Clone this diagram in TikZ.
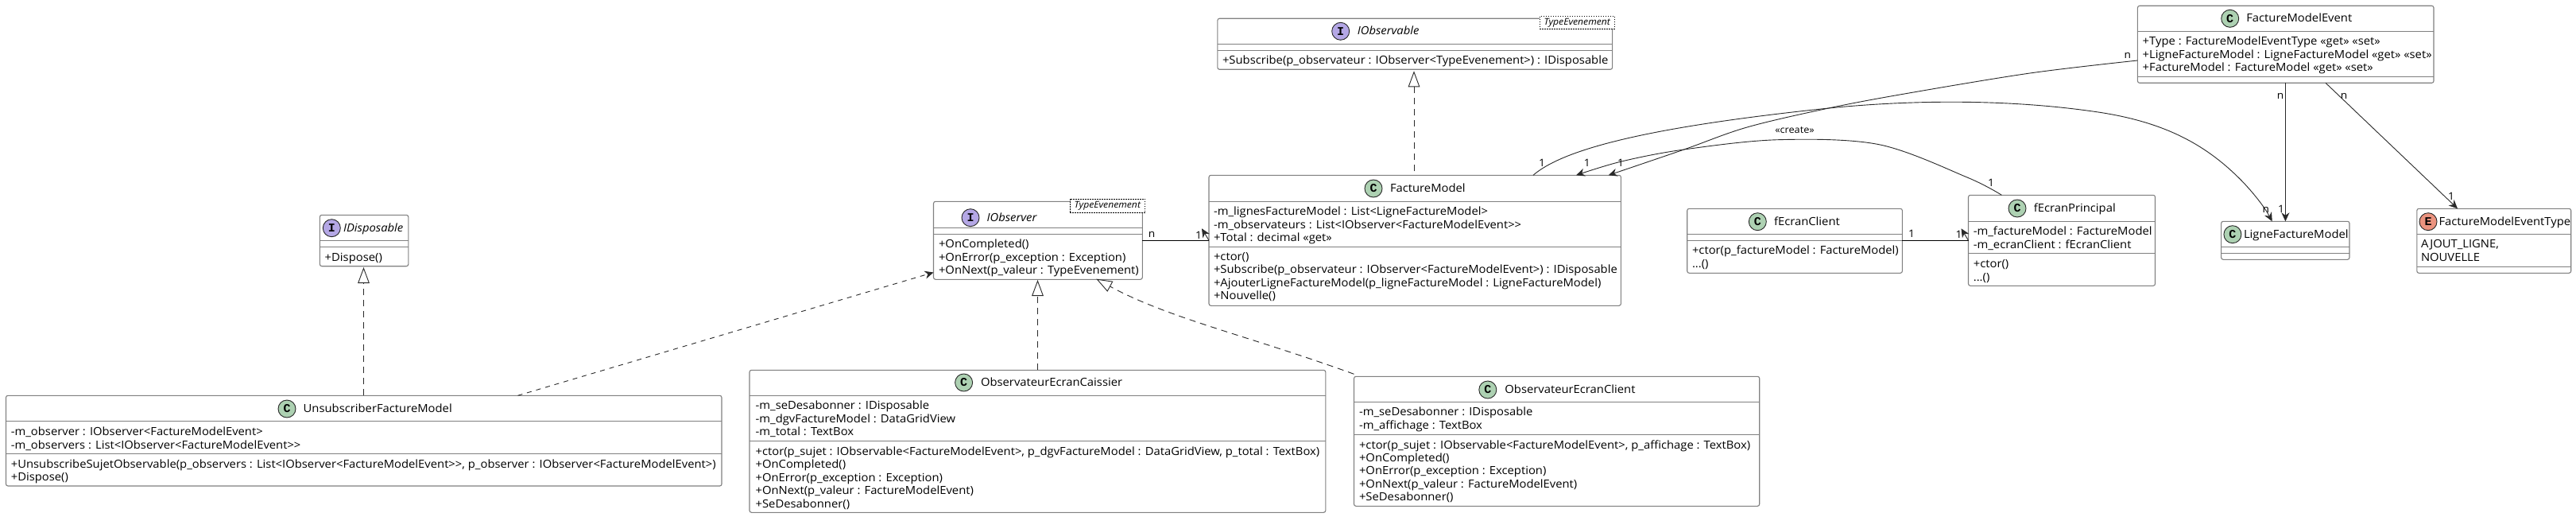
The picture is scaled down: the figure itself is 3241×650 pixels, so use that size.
\documentclass[tikz,border=0pt]{standalone}
\usepackage{fontspec}
\usetikzlibrary{arrows.meta,calc}
\setmainfont{Open Sans}[FakeStretch=1.057]
\newfontfamily\spotfont{Liberation Mono}[BoldFont=Liberation Mono Bold]
\definecolor{cborder}{HTML}{808080}
\definecolor{cline}{HTML}{2A2A2A}
\definecolor{cclass}{HTML}{ADD1B2}
\definecolor{ciface}{HTML}{B4A7E5}
\definecolor{cenum}{HTML}{EB937F}
\newcommand\lstrut{\vrule height 13pt depth 3.4pt width 0pt\relax}
\tikzset{
  classbox/.style={draw=cborder,line width=1.1pt,fill=white,rounded corners=2.5pt,inner sep=0pt,outer sep=0pt,anchor=north west},
  sepline/.style={draw=cborder,line width=1.1pt},
  memberlines/.style={inner sep=0pt,outer sep=0pt,anchor=north west,align=left,font=\fontsize{14}{16.4}\selectfont},
  titletext/.style={inner sep=0pt,outer sep=0pt,anchor=base west,font=\fontsize{14}{16.4}\selectfont},
  generictag/.style={draw=black,line width=.9pt,dash pattern=on 1.5pt off 1.5pt,fill=white,inner sep=0pt,outer sep=0pt,anchor=north west,font=\fontsize{11.5}{14}\selectfont\itshape},
  spot/.style={circle,draw=black!85,line width=.9pt,minimum size=22pt,inner sep=0pt,outer sep=0pt,font=\spotfont\bfseries\fontsize{15}{15}\selectfont},
  role/.style={inner sep=0pt,outer sep=0pt,font=\fontsize{13}{15}\selectfont},
  conn/.style={draw=cline,line width=.9pt},
  heavy/.style={draw=black,line width=1.5pt},
  toopen/.style={conn,-{Stealth[length=11pt,width=10pt,inset=3.5pt]}},
  realize/.style={conn,dash pattern=on 8pt off 6pt,-{Triangle[open,fill=white,length=20pt,width=14.6pt]}},
  depends/.style={conn,dash pattern=on 6pt off 6pt,-{Stealth[length=11pt,width=10pt,inset=3.5pt,fill=cline]}},
}
\newcommand\umlbox[6]{%
  \pgfmathsetmacro\boxw{#4-#2}\pgfmathsetmacro\boxh{#5-#3}%
  \node[classbox,minimum width=\boxw pt,minimum height=\boxh pt] (#1) at (#2,#3) {};
  \foreach \s in {#6} {\draw[sepline] (#1.west |- 0,\s) -- (#1.east |- 0,\s);}
}
\newcommand\umlspot[5]{\node[spot,fill=#4] (#1) at (#2,#3) {#5};}
\newcommand\umltitle[5][]{\node[titletext,#1] (#2) at (#3,#4+4.7) {#5};}
\newcommand\umllines[4]{\node[memberlines] (#1) at (#2,#3-8.3) {\lstrut #4};}
\newcommand\umlrole[4]{\node[role] (#1) at (#2,#3) {#4};}
\begin{document}
\begin{tikzpicture}[x=1pt,y=-1pt]
\path[use as bounding box,fill=white] (0,0) rectangle (3241,650);

% IDisposable
\umlbox{disp}{402.4}{270.3}{513.8}{334.7}{302.3,310.3}
\umlspot{dispS}{417.3}{286.7}{ciface}{I}
\umltitle[font=\fontsize{14}{16.4}\selectfont\itshape]{dispT}{432}{286.7}{IDisposable}
\umllines{dispM}{408.7}{323.3}{+Dispose()}

% UnsubscriberFactureModel
\umlbox{unsub}{7.5}{497.3}{908}{611}{529.3,570.3}
\umlspot{unsubS}{361}{514}{cclass}{C}
\umltitle{unsubT}{381.7}{514}{UnsubscriberFactureModel}
\umllines{unsubA}{13.8}{543}{-m\_observer : IObserver<FactureModelEvent>\\-m\_observers : List<IObserver<FactureModelEvent>{}>}
\umllines{unsubO}{13.8}{583.5}{+UnsubscribeSujetObservable(p\_observers : List<IObserver<FactureModelEvent>{}>, p\_observer : IObserver<FactureModelEvent>)\\+Dispose()}

% IObserver
\umlbox{obs}{1174.5}{253.3}{1437.3}{351.3}{286.3,294.3}
\umlspot{obsS}{1221}{273.7}{ciface}{I}
\umltitle[font=\fontsize{14}{16.4}\selectfont\itshape]{obsT}{1241.6}{273.7}{IObserver}
\node[generictag,minimum width=94.6pt,minimum height=17.7pt] (obsG) at (1346,250) {TypeEvenement};
\umllines{obsO}{1181}{307}{+OnCompleted()\\+OnError(p\_exception : Exception)\\+OnNext(p\_valeur : TypeEvenement)}

% IObservable
\umlbox{obl}{1531.8}{23.3}{2028.6}{87.3}{55.3,63.3}
\umlspot{oblS}{1686.7}{39.3}{ciface}{I}
\umltitle[font=\fontsize{14}{16.4}\selectfont\itshape]{oblT}{1707.8}{39.3}{IObservable}
\node[generictag,minimum width=93.6pt,minimum height=16.4pt] (oblG) at (1937.4,20.3) {TypeEvenement};
\umllines{oblO}{1538}{76.3}{+Subscribe(p\_observateur : IObserver<TypeEvenement>) : IDisposable}

% FactureModel
\umlbox{fm}{1521}{220.3}{2039.4}{384.3}{253.3,310.3}
\umlspot{fmS}{1728}{237}{cclass}{C}
\umltitle{fmT}{1749}{237}{FactureModel}
\umllines{fmA}{1527}{266}{-m\_lignesFactureModel : List<LigneFactureModel>\\-m\_observateurs : List<IObserver<FactureModelEvent>{}>\\+Total : decimal «get»}
\umllines{fmO}{1527}{322.7}{+ctor()\\+Subscribe(p\_observateur : IObserver<FactureModelEvent>) : IDisposable\\+AjouterLigneFactureModel(p\_ligneFactureModel : LigneFactureModel)\\+Nouvelle()}

% ObservateurEcranCaissier
\umlbox{caiss}{943}{465.3}{1667.8}{644.3}{497.3,554.3}
\umlspot{caissS}{1212.6}{481}{cclass}{C}
\umltitle{caissT}{1234}{481}{ObservateurEcranCaissier}
\umllines{caissA}{950.6}{510}{-m\_seDesabonner : IDisposable\\-m\_dgvFactureModel : DataGridView\\-m\_total : TextBox}
\umllines{caissO}{950.6}{567.7}{+ctor(p\_sujet : IObservable<FactureModelEvent>, p\_dgvFactureModel : DataGridView, p\_total : TextBox)\\+OnCompleted()\\+OnError(p\_exception : Exception)\\+OnNext(p\_valeur : FactureModelEvent)\\+SeDesabonner()}

% ObservateurEcranClient
\umlbox{clt}{1703.5}{473.3}{2213.7}{636.3}{505.3,546.3}
\umlspot{cltS}{1871.8}{490}{cclass}{C}
\umltitle{cltT}{1893.4}{490}{ObservateurEcranClient}
\umllines{cltA}{1710}{518}{-m\_seDesabonner : IDisposable\\-m\_affichage : TextBox}
\umllines{cltO}{1710}{559.3}{+ctor(p\_sujet : IObservable<FactureModelEvent>, p\_affichage : TextBox)\\+OnCompleted()\\+OnError(p\_exception : Exception)\\+OnNext(p\_valeur : FactureModelEvent)\\+SeDesabonner()}

% fEcranClient
\umlbox{fec}{2122.7}{262.3}{2393.4}{343.3}{294.3,302.3}
\umlspot{fecS}{2211.3}{278.7}{cclass}{C}
\umltitle{fecT}{2232}{278.7}{fEcranClient}
\umllines{fecO}{2129}{315}{+ctor(p\_factureModel : FactureModel)\\...()}

% fEcranPrincipal
\umlbox{fep}{2476.5}{245.3}{2711.5}{359.3}{278.3,318.3}
\umlspot{fepS}{2538}{262}{cclass}{C}
\umltitle{fepT}{2558.8}{262}{fEcranPrincipal}
\umllines{fepA}{2482.8}{291}{-m\_factureModel : FactureModel\\-m\_ecranClient : fEcranClient}
\umllines{fepO}{2482.8}{332}{+ctor()\\...()}

% FactureModelEvent
\umlbox{fme}{2689.4}{7.3}{3062}{104.3}{39.3,96.3}
\umlspot{fmeS}{2805.7}{23.3}{cclass}{C}
\umltitle{fmeT}{2826.3}{23.3}{FactureModelEvent}
\umllines{fmeA}{2695.7}{52.3}{+Type : FactureModelEventType «get» «set»\\+LigneFactureModel : LigneFactureModel «get» «set»\\+FactureModel : FactureModel «get» «set»}

% LigneFactureModel
\umlbox{lfm}{2794.6}{278.3}{2956}{326.3}{310.3,318.3}
\umlspot{lfmS}{2808.9}{294.7}{cclass}{C}
\umltitle{lfmT}{2823}{294.7}{LigneFactureModel}

% FactureModelEventType
\umlbox{fmet}{3040.8}{262.3}{3234.7}{343.3}{294.3,335.3}
\umlspot{fmetS}{3055}{278.7}{cenum}{E}
\umltitle{fmetT}{3068.5}{278.7}{FactureModelEventType}
\umllines{fmetV}{3046}{307}{AJOUT\_LIGNE,\\NOUVELLE}

% realizations
\draw[realize] (457.5,0 |- unsub.north) -- (457.5,336);
\draw[realize] (1305.5,0 |- caiss.north) -- (1305.5,352);
\draw[realize] (1779,0 |- fm.north) ++(0,-5) -- (1779,89.3);
\draw[realize] (clt.north west) ++(0,-3) .. controls (1570,422) and (1470,400) .. (1379.3,350.7);
\draw[depends] (651.5,0 |- unsub.north) -- (obs.west |- 0,342.5);

% heavy associations
\draw[heavy] (obs.east |- 0,302.3) -- (fm.west |- 0,302.3);
\coordinate (hookA) at (1512,287.3);
\draw[toopen] (fm.west |- 0,302.3) -- (hookA);
\draw[heavy] (fec.east |- 0,302.3) -- (fep.west |- 0,302.3);
\coordinate (hookB) at (2467.5,287.3);
\draw[toopen] (fep.west |- 0,302.3) -- (hookB);

% curves
\draw[toopen] plot[smooth,tension=.55] coordinates {(fme.west |- 0,76) (2554,92) (2396,118) (2300.7,136) (2198,160) (2118.7,188) (2023.7,0 |- fm.north)};
\draw[toopen] plot[smooth,tension=.55] coordinates {(2518.4,0 |- fep.north) (2475,223) (2364,181.7) (2237.4,175.7) (2118.7,188) (2040,203) (1983,0 |- fm.north)};
\draw[toopen] (1929,0 |- fm.north) .. controls (1975,180) and (2120,155) .. (2300.7,136) .. controls (2400,126) and (2520,124) .. (2633,140) .. controls (2720,152) and (2775,180) .. (2823,230) .. controls (2838,246) and (2850,262) .. (2858.7,0 |- lfm.north);
\draw[toopen] (2875.4,0 |- fme.south) -- (2875.4,0 |- lfm.north);
\draw[toopen] (2926,0 |- fme.south) -- (3092,0 |- fmet.north);

% roles
\umlrole{r1}{1449}{295}{n}
\umlrole{r2}{1508}{295.7}{1}
\umlrole{r3}{1940}{205.3}{1}
\umlrole{r4}{1996.7}{205.3}{1}
\umlrole{r5}{2039}{205.3}{1}
\umlrole{r6}{2676.7}{70}{n}
\umlrole{r7}{2505}{230}{1}
\umlrole{r8}{2405}{294.3}{1}
\umlrole{r9}{2464.6}{295}{1}
\umlrole{r10}{2850.8}{264.3}{n}
\umlrole{r11}{2870}{263.3}{1}
\umlrole{r12}{2869}{121.3}{n}
\umlrole{r13}{2949}{121.3}{n}
\umlrole{r14}{3084}{247.3}{1}
\node[role,font=\fontsize{12}{14}\selectfont] (r15) at (2258,164) {«create»};
\end{tikzpicture}
\end{document}
